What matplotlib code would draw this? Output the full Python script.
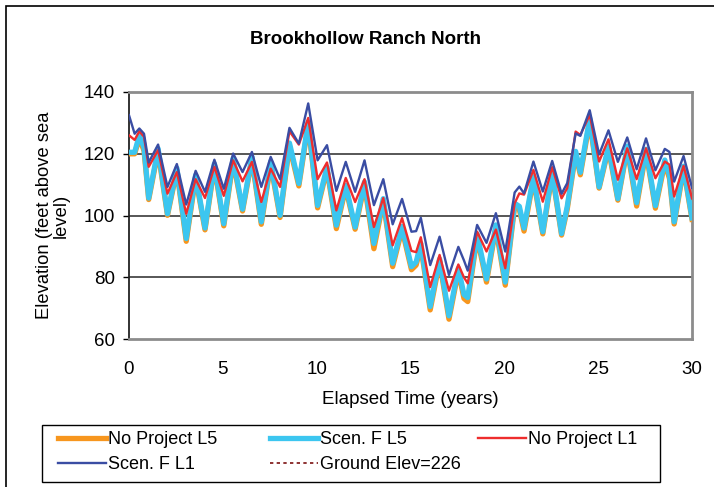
import matplotlib
matplotlib.use("Agg")
import matplotlib.pyplot as plt
from matplotlib.lines import Line2D
from matplotlib.patches import Rectangle

plt.rcParams['font.family'] = ['Liberation Sans', 'DejaVu Sans']

title = "Brookhollow Ranch North"
x_label = "Elapsed Time (years)"
y_label = "Elevation (feet above sea\nlevel)"
x_ticks = [0, 5, 10, 15, 20, 25, 30]
y_ticks = [60, 80, 100, 120, 140]
ground_elev = 226

years = [0.0, 0.3, 0.55, 0.8, 1.05, 1.55, 2.05, 2.55, 3.05, 3.55, 4.05, 4.55,
         5.05, 5.55, 6.05, 6.55, 7.05, 7.55, 8.05, 8.55, 9.05, 9.55, 10.05,
         10.55, 11.05, 11.55, 12.05, 12.55, 13.05, 13.55, 14.05, 14.55, 15.05,
         15.3, 15.55, 16.05, 16.55, 17.05, 17.55, 17.85, 18.05, 18.55, 19.05,
         19.55, 20.05, 20.55, 20.8, 21.05, 21.55, 22.05, 22.55, 23.05, 23.35,
         23.8, 24.05, 24.55, 25.05, 25.55, 26.05, 26.55, 27.05, 27.55, 28.05,
         28.55, 28.8, 29.05, 29.55, 30.0]

scen_f_l1 = [132.5, 126.5, 128.2, 126.5, 117.2, 123.0, 109.3, 116.7, 103.6, 114.5,
             107.7, 118.1, 108.7, 120.1, 114.1, 120.6, 109.3, 119.0, 111.8, 128.4,
             123.3, 136.3, 117.9, 122.8, 108.0, 117.4, 107.7, 117.9, 103.4, 111.8,
             97.2, 105.4, 94.8, 95.0, 99.3, 84.0, 93.2, 80.8, 89.9, 85.5,
             82.2, 97.0, 91.2, 100.8, 88.4, 107.5, 109.4, 107.2, 117.5, 107.8,
             117.7, 107.1, 110.5, 126.6, 125.8, 134.1, 119.8, 127.6, 117.4, 125.3,
             115.0, 125.0, 114.7, 121.6, 120.6, 111.0, 119.3, 109.0]

no_project_l1 = [126.0, 124.5, 127.3, 125.5, 115.8, 121.2, 107.1, 114.1, 100.6, 111.8,
                 105.7, 115.8, 106.4, 117.9, 111.1, 117.4, 104.4, 115.2, 109.3, 127.3,
                 123.0, 131.6, 111.8, 117.2, 101.7, 112.2, 104.4, 111.8, 96.3, 105.7,
                 90.4, 99.2, 88.6, 88.2, 93.0, 76.9, 87.3, 75.7, 84.2, 80.0,
                 78.1, 94.8, 88.4, 95.5, 83.0, 104.0, 107.2, 106.8, 114.8, 104.5,
                 115.7, 105.6, 108.9, 127.2, 126.1, 132.6, 117.5, 124.7, 111.6, 121.8,
                 111.8, 121.8, 112.1, 117.5, 116.5, 106.2, 116.1, 105.6]

scen_f_l5 = [120.5, 120.5, 126.0, 122.0, 105.7, 121.7, 100.6, 115.4, 92.6, 113.1,
             96.0, 116.8, 97.4, 118.5, 102.1, 119.0, 98.0, 117.5, 100.1, 123.5,
             110.4, 130.3, 103.3, 115.8, 96.9, 109.8, 96.3, 110.9, 91.0, 105.5,
             84.6, 96.5, 83.5, 85.0, 91.0, 70.6, 86.0, 67.6, 83.0, 74.5,
             73.5, 94.0, 79.5, 97.0, 78.5, 104.0, 103.0, 96.0, 112.6, 94.8,
             114.3, 94.2, 102.9, 120.8, 114.0, 131.5, 109.3, 122.5, 105.5, 122.5,
             104.2, 121.5, 103.2, 118.0, 113.0, 98.0, 116.0, 99.3]

no_project_l5 = [120.0, 120.0, 125.0, 121.0, 105.2, 120.8, 100.1, 114.6, 91.7, 112.3,
                 95.4, 116.0, 96.7, 117.6, 101.5, 118.2, 97.2, 116.6, 99.4, 122.5,
                 109.6, 129.5, 102.5, 115.0, 95.8, 109.0, 95.6, 110.0, 89.3, 104.6,
                 83.5, 95.6, 82.5, 84.0, 90.0, 69.5, 85.0, 66.5, 82.0, 73.2,
                 72.2, 93.0, 78.5, 96.0, 77.5, 103.0, 102.0, 95.0, 111.8, 94.1,
                 113.5, 93.7, 102.0, 120.0, 113.2, 130.5, 108.9, 121.6, 105.0, 121.6,
                 103.1, 120.6, 102.4, 117.0, 112.0, 97.3, 115.2, 98.8]

c_np_l5 = "#F7961E"
c_sf_l5 = "#3CC6F0"
c_np_l1 = "#EE2D2D"
c_sf_l1 = "#3A4DA3"
c_ground = "#7B1010"

W, H = 714, 487
fig = plt.figure(figsize=(7.14, 4.87), dpi=100)
ax = fig.add_axes([129 / W, 1 - 339.3 / H, (692 - 129) / W, (339.3 - 92) / H])

ax.plot(years, no_project_l5, color=c_np_l5, lw=3.8, solid_joinstyle='round', zorder=3)
ax.plot(years, scen_f_l5, color=c_sf_l5, lw=3.8, solid_joinstyle='round', zorder=4)
ax.plot(years, no_project_l1, color=c_np_l1, lw=1.7, zorder=5)
ax.plot(years, scen_f_l1, color=c_sf_l1, lw=1.7, zorder=6)
ax.plot([years[0], years[-1]], [ground_elev, ground_elev], color=c_ground, lw=1.2,
        ls=(0, (2, 2)), zorder=2)

ax.set_xlim(0, 30)
ax.set_ylim(60, 140)
ax.set_xticks(x_ticks)
ax.set_yticks(y_ticks)
ax.tick_params(axis='x', length=0, pad=15.5, labelsize=13.5)
ax.tick_params(axis='y', length=4, width=1, pad=6, labelsize=13.5, direction='out')

for yv in y_ticks[1:-1]:
    ax.axhline(yv, color="#3a3a3a", lw=1.2, zorder=1)

ax.spines['left'].set_color('#222222')
ax.spines['left'].set_linewidth(1.3)
for s in ['top', 'right', 'bottom']:
    ax.spines[s].set_color('#8c8c8c')
    ax.spines[s].set_linewidth(2)
ax.spines['bottom'].set_zorder(7)

ax.set_xlabel(x_label, fontsize=13.5, labelpad=9.5)
ax.set_ylabel(y_label, fontsize=13.2, labelpad=10, linespacing=1.0)
fig.text(366 / W, 1 - 39 / H, title, ha='center', va='center',
         fontsize=13.5, fontweight='bold')

# legend: three equal-width columns inside one black frame
columns = [
    ([Line2D([], [], color=c_np_l5, lw=3.8), Line2D([], [], color=c_sf_l1, lw=1.7)],
     ["No Project L5", "Scen. F L1"], 58),
    ([Line2D([], [], color=c_sf_l5, lw=3.8), Line2D([], [], color=c_ground, lw=1.2, ls=(0, (2, 2)))],
     ["Scen. F L5", "Ground Elev=226"], 270),
    ([Line2D([], [], color=c_np_l1, lw=1.7)],
     ["No Project L1"], 478),
]
for hs, ls_, xpx in columns:
    lg = fig.legend(hs, ls_, loc='upper left', bbox_to_anchor=(xpx / W, 1 - 431 / H),
                    fontsize=13, frameon=False, handlelength=2.65, handletextpad=0.12,
                    borderpad=0, labelspacing=0.45, borderaxespad=0)
fig.patches.append(Rectangle((42 / W, 1 - 482 / H), (660 - 42) / W, (482 - 425) / H,
                             transform=fig.transFigure, fill=False,
                             edgecolor='black', lw=1.0))

fig.patches.append(Rectangle((6 / W, -0.1), 2, 1 - 6 / H + 0.1,
                             transform=fig.transFigure, fill=False,
                             edgecolor='black', lw=1.2))

fig.savefig("out.png", dpi=100)
